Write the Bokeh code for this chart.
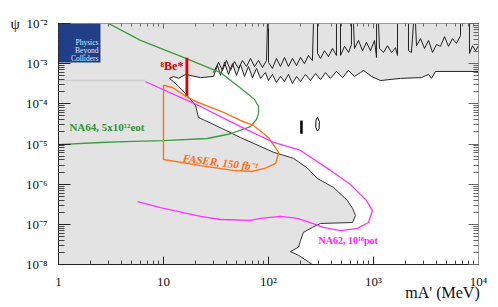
from bokeh.plotting import figure
from bokeh.models import LogAxis, FixedTicker, Label, BoxAnnotation
from bokeh.embed import file_html
from bokeh.resources import INLINE

# ---------------- data ----------------
x_ticks = [1, 10, 100, 1000, 10000]
x_tick_labels = ["1", "10", "10²", "10³", "10⁴"]
y_ticks = [1e-8, 1e-7, 1e-6, 1e-5, 1e-4, 1e-3, 1e-2]
y_tick_labels = ["10⁻⁸", "10⁻⁷", "10⁻⁶", "10⁻⁵", "10⁻⁴", "10⁻³", "10⁻²"]

# upper edge of the allowed (white) region
white_top_x = [11.4, 12.5, 13.9, 16.2, 22.5, 29.9, 32.7, 34.9, 38.1, 41.6, 45.4, 49.6, 54.1, 59.1,
               64.5, 70.4, 76.9, 83.9, 93.6, 100, 109, 119, 130, 142, 155, 169, 185, 202, 225, 251,
               281, 313, 349, 389, 444, 507, 578, 659, 752, 803, 957, 1166, 1807, 2865, 3342, 3566,
               3890, 10000]
white_top_y = [4.3e-4, 4.8e-4, 4.3e-4, 5.4e-4, 4.5e-4, 4.8e-4, 9.0e-4, 5.1e-4, 1.07e-3, 5.4e-4,
               1.0e-3, 5.1e-4, 9.5e-4, 4.8e-4, 8.5e-4, 4.5e-4, 7.6e-4, 4.3e-4, 6.0e-4, 3.8e-4,
               5.4e-4, 3.4e-4, 4.8e-4, 3.6e-4, 5.4e-4, 3.2e-4, 4.8e-4, 3.6e-4, 5.4e-4, 3.8e-4,
               5.7e-4, 4.0e-4, 6.0e-4, 4.3e-4, 6.4e-4, 4.5e-4, 6.8e-4, 4.8e-4, 6.0e-4, 6.8e-4,
               4.8e-4, 3.8e-4, 4.3e-4, 4.5e-4, 5.4e-4, 4.3e-4, 6.4e-4, 6.4e-4]

# lower edge of the allowed region (beam-dump limits)
lower_x = [11.4, 13.6, 16.2, 20.2, 21.5, 36.5, 54, 112, 173, 235, 293, 416, 565, 631, 674, 631,
           313, 262, 215, 202, 193, 162, 193, 262]
lower_y = [4.3e-4, 2.9e-4, 1.8e-4, 9.1e-5, 4.6e-5, 2.4e-5, 1.45e-5, 6.2e-6, 4.4e-6, 2.5e-6,
           1.38e-6, 8.3e-7, 3.9e-7, 2.5e-7, 1.66e-7, 1.11e-7, 1.05e-7, 8.4e-8, 6.3e-8, 4.0e-8,
           2.7e-8, 2.1e-8, 1.7e-8, 1e-8]

# jagged contour inside the excluded region at the top
upper_x = [29.9, 33.4, 36.5, 39.8, 43.5, 47.4, 51.8, 56.5, 61.7, 67.4, 73.6, 80.3, 87.7, 95.7,
           97.8, 100, 100, 109, 119, 130, 142, 155, 169, 185, 202, 220, 240, 262, 268, 293, 293,
           313, 341, 373, 407, 444, 444, 485, 485, 530, 578, 617, 617, 645, 659, 720, 786, 858,
           936, 1022, 1069, 1069, 1116, 1141, 1245, 1359, 1484, 1620, 1693, 1693, 2154, 2154,
           2300, 2404, 2512, 2568, 2804, 3061, 3342, 3648, 3981, 4345, 4745, 5179, 5652, 6170,
           6740, 6740, 8204, 8204, 8770, 9360, 10000]
upper_y = [6.0e-4, 1.07e-3, 6.8e-4, 1.2e-3, 6.8e-4, 1.13e-3, 7.6e-4, 1.2e-3, 8.5e-4, 1.35e-3,
           8.5e-4, 1.2e-3, 8.0e-4, 1.2e-3, 1e-2, 1e-2, 1.07e-3, 7.6e-4, 1.35e-3, 8.5e-4, 1.43e-3,
           8.5e-4, 1.35e-3, 9.0e-4, 1.43e-3, 1.0e-3, 1.6e-3, 1.2e-3, 1e-2, 1e-2, 1.8e-3, 1.35e-3,
           2.1e-3, 1.5e-3, 2.4e-3, 1.6e-3, 1e-2, 1e-2, 1.6e-3, 2.7e-3, 1.9e-3, 3.0e-3, 1e-2, 1e-2,
           2.4e-3, 3.8e-3, 2.1e-3, 3.4e-3, 2.1e-3, 3.8e-3, 1.43e-3, 1e-2, 1e-2, 2.4e-3, 1.9e-3,
           2.8e-3, 1.9e-3, 2.5e-3, 1.6e-3, 1e-2, 1e-2, 2.1e-3, 1.9e-3, 1e-2, 1e-2, 2.8e-3, 4.2e-3,
           2.4e-3, 3.8e-3, 1.9e-3, 3.0e-3, 2.7e-3, 4.7e-3, 2.7e-3, 4.2e-3, 3.2e-3, 5.0e-3, 1e-2,
           1e-2, 1.8e-3, 2.8e-3, 2.1e-3, 2.8e-3]

# small islands
island1_x = [206, 206]
island1_y = [3.85e-5, 1.8e-5]
island2_x = [293, 305, 303, 293, 282, 283]
island2_y = [4.6e-5, 3.6e-5, 2.4e-5, 2.1e-5, 2.6e-5, 3.9e-5]

# faint old limit
faint_x = [1, 6.7]
faint_y = [3.8e-4, 3.8e-4]

# NA64, 5x10^12 eot
na64_x = [3.0, 6.04, 15.5, 34.9, 63, 73.6, 80.3, 80.3, 76.9, 67.4, 43.5, 26.2, 10, 5.18, 2.51, 1]
na64_y = [1e-2, 3.8e-3, 1.43e-3, 6.0e-4, 1.8e-4, 1.28e-4, 8.6e-5, 5.8e-5, 4.1e-5, 2.7e-5,
          1.8e-5, 1.37e-5, 1.22e-5, 1.16e-5, 1.09e-5, 9.7e-6]

# FASER, 150 fb^-1
faser_x = [10, 12.2, 16.9, 21.5, 37.3, 54.1, 72, 100, 125, 117, 93.6, 68.9, 46, 22.5, 10, 10]
faser_y = [2.9e-4, 2.55e-4, 1.44e-4, 1.08e-4, 6.1e-5, 3.85e-5, 2.9e-5, 1.45e-5, 6.2e-6, 3.3e-6,
           2.5e-6, 2.07e-6, 2.2e-6, 2.9e-6, 4.1e-6, 2.9e-4]

# NA62, 10^18 pot
na62_x = [5.66, 9.36, 13.6, 22.5, 34.9, 67.4, 83.9, 130, 189, 262, 334, 485, 704, 896, 978, 858,
          604, 389, 202, 112, 54.1, 22.5, 6.7]
na62_y = [3.7e-7, 2.6e-7, 2.1e-7, 1.57e-7, 1.32e-7, 1.25e-7, 1.4e-7, 1.57e-7, 1.4e-7, 1.05e-7,
          8.4e-8, 7.0e-8, 7.9e-8, 1.11e-7, 2.2e-7, 3.9e-7, 9.8e-7, 2.2e-6, 6.9e-6, 1.09e-5,
          2.7e-5, 8.6e-5, 3.6e-4]

# 8Be* anomaly
be_x = [16.7, 16.7]
be_y = [1.4e-3, 1.6e-4]

x_title = "mA' (MeV)"
y_title = "ψ"

# ---------------- figure ----------------
FONT = "Liberation Serif"

p = figure(x_axis_type="log", y_axis_type="log", x_range=(1, 1e4), y_range=(1e-8, 1e-2),
           frame_width=420, frame_height=241,
           min_border_left=58, min_border_right=20, min_border_top=23, min_border_bottom=43,
           output_backend="svg", toolbar_location=None,
           background_fill_color="#e3e3e3", border_fill_color="white")
p.grid.visible = False
p.outline_line_color = "#999999"

x_minor = [k * t for t in x_ticks[:-1] for k in range(2, 10)]
y_minor = [k * t for t in y_ticks[:-1] for k in range(2, 10)]

p.xaxis.ticker = FixedTicker(ticks=x_ticks, minor_ticks=x_minor)
p.yaxis.ticker = FixedTicker(ticks=y_ticks, minor_ticks=y_minor)
p.xaxis.major_label_overrides = dict(zip(x_ticks, x_tick_labels))
p.yaxis.major_label_overrides = dict(zip(y_ticks, y_tick_labels))

for ax in (p.xaxis, p.yaxis):
    ax.major_tick_out = 0
    ax.minor_tick_out = 0
    ax.major_label_text_font = FONT
    ax.major_label_text_font_size = "13px"
    ax.major_label_text_color = "#111111"
    ax.axis_line_color = "#222222"
    ax.major_tick_line_color = "#222222"
    ax.minor_tick_line_color = "#444444"
    ax.axis_label_text_font = FONT
    ax.axis_label_text_font_style = "normal"
    ax.axis_label_text_color = "#111111"
p.xaxis.major_tick_in = 8
p.xaxis.minor_tick_in = 4
p.yaxis.major_tick_in = 12
p.yaxis.minor_tick_in = 6
p.xaxis.major_label_standoff = 9
p.yaxis.major_label_standoff = 11

# the label is centred on the axis end, so pad it on the right with no-break spaces
p.xaxis.axis_label = x_title + "\u00a0" * 18
p.xaxis.axis_label_text_font_size = "16px"
p.xaxis.axis_label_standoff = -8
p.yaxis.axis_label = y_title
p.yaxis.axis_label_text_font_size = "15px"
p.yaxis.axis_label_orientation = "horizontal"
p.yaxis.axis_label_standoff = 3
try:
    p.xaxis.axis_label_align = "end"
    p.yaxis.axis_label_align = "end"
except Exception:
    pass

top = LogAxis(ticker=FixedTicker(ticks=x_ticks, minor_ticks=x_minor),
              major_label_text_font_size="1px", major_label_text_alpha=0.0,
              major_label_standoff=0,
              major_tick_in=5, major_tick_out=0, minor_tick_in=3, minor_tick_out=0,
              axis_line_color="#999999", major_tick_line_color="#666666",
              minor_tick_line_color="#666666")
right = LogAxis(ticker=FixedTicker(ticks=y_ticks, minor_ticks=y_minor),
                major_label_text_font_size="1px", major_label_text_alpha=0.0,
                major_label_standoff=0,
                major_tick_in=10, major_tick_out=0, minor_tick_in=5, minor_tick_out=0,
                axis_line_color="#999999", major_tick_line_color="#666666",
                minor_tick_line_color="#666666")
p.add_layout(top, "above")
p.add_layout(right, "right")

# allowed region (white)
poly_x = white_top_x + [1e4] + lower_x[::-1]
poly_y = white_top_y + [1e-8] + lower_y[::-1]
p.patch(poly_x, poly_y, fill_color="white", line_color=None)

p.line(faint_x, faint_y, line_color="#cdcdcd", line_width=1.5)

p.line(white_top_x, white_top_y, line_color="#222222", line_width=1)
p.line(upper_x, upper_y, line_color="#222222", line_width=1)
p.line(lower_x, lower_y, line_color="#333333", line_width=1)
p.line(island1_x, island1_y, line_color="black", line_width=2.5)
p.patch(island2_x, island2_y, fill_color=None, line_color="black", line_width=1)

p.line(na64_x, na64_y, line_color="#3c9b3c", line_width=1.3)
p.line(faser_x, faser_y, line_color="#ff7417", line_width=1.4)
p.line(na62_x, na62_y, line_color="#ff33ff", line_width=1.3)
p.line(be_x, be_y, line_color="#dd0000", line_width=2.8)

# logo
p.add_layout(BoxAnnotation(left=1, right=2.51, top=1e-2, bottom=1.07e-3,
                           fill_color="#203f86", fill_alpha=1.0, line_color=None))
for txt, yy in (("Physics", 3.3e-3), ("Beyond", 2.1e-3), ("Colliders", 1.35e-3)):
    p.add_layout(Label(x=2.40, y=yy, text=txt, text_font=FONT, text_font_size="7.5px",
                       text_color="#dfe8ff", text_align="right", text_baseline="middle"))

# curve labels
p.add_layout(Label(x=9.36, y=9.0e-4, text="⁸Be*", text_font=FONT, text_font_style="bold",
                   text_font_size="12px", text_color="#d40000", text_baseline="middle"))
p.add_layout(Label(x=1.27, y=2.6e-5, text="NA64, 5x10¹²eot", text_font=FONT,
                   text_font_style="bold", text_font_size="11px", text_color="#2f942f",
                   text_baseline="middle"))
p.add_layout(Label(x=34.9, y=3.5e-6, text="FASER, 150 fb⁻¹", text_font=FONT,
                   text_font_style="bold italic", text_font_size="11px", text_color="#ff6a10",
                   text_align="center", text_baseline="middle", angle=-0.12))
p.add_layout(Label(x=299, y=4.0e-8, text="NA62, 10¹⁸pot", text_font=FONT,
                   text_font_style="bold", text_font_size="10px", text_color="#ff22ff",
                   text_baseline="middle"))

open("out.html", "w").write(file_html(p, INLINE))
